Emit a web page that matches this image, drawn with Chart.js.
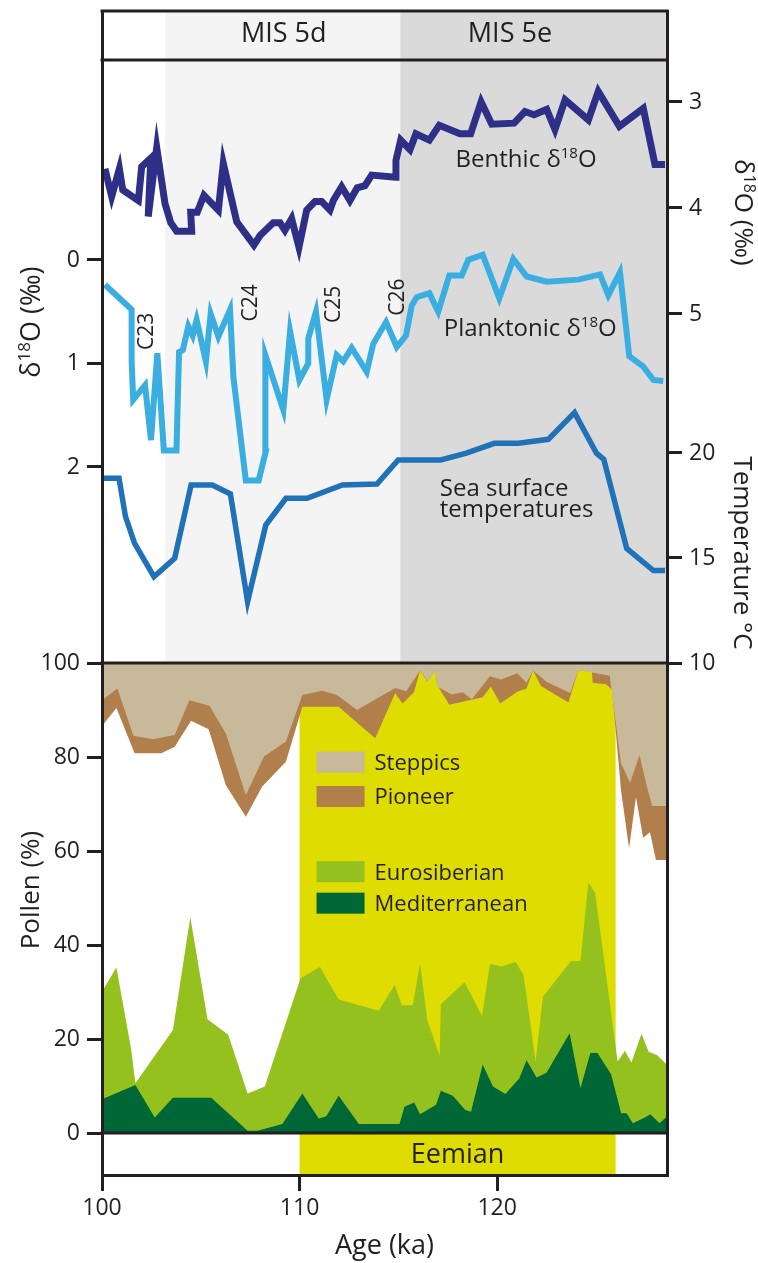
<!DOCTYPE html>
<html lang="en">
<head>
<meta charset="utf-8">
<title>Isotope and pollen records across MIS 5d–5e</title>
<script src="https://cdn.jsdelivr.net/npm/chart.js@4.4.1/dist/chart.umd.min.js"></script>
<style>
  html, body { margin: 0; padding: 0; background: #ffffff; }
  #frame { width: 758px; height: 1263px; }
</style>
</head>
<body>
<div id="frame"><canvas id="chart" width="758" height="1263"></canvas></div>
<script>
const INK = '#231f20';
const FAMILY = '"Open Sans", "Noto Sans", sans-serif';

// ---------- age axis (ka) ----------
const ageMin = 100;
const ageMax = 128.6;
const ageTicks = [100, 110, 120];

// ---------- marine isotope stages (header strip) ----------
const misNames = ['MIS 5d', 'MIS 5e'];
const misFrom = [103.2, 115.1];
const misTo = [115.1, 128.6];

// ---------- Eemian interval (ka) ----------
const eemianFrom = 110;
const eemianTo = 126;

// ---------- tick values ----------
const planktonicTicks = [0, 1, 2];
const benthicTicks = [3, 4, 5];
const sstTicks = [10, 15, 20];
const pollenTicks = [0, 20, 40, 60, 80, 100];

// ---------- benthic δ18O (‰) ----------
const benthicAge = [100.15, 100.49, 100.88, 101.05, 101.84, 102.01, 102.47, 102.34, 102.77, 103.19,
  103.48, 103.78, 104.54, 104.49, 104.82, 105.16, 105.89, 106.14, 106.82, 107.69,
  108.00, 108.67, 109.01, 109.26, 109.60, 109.97, 110.36, 110.78, 111.12, 111.54,
  111.71, 112.13, 112.55, 112.92, 113.31, 113.65, 114.86, 114.88, 115.12, 115.59,
  115.89, 116.57, 117.07, 118.12, 118.66, 119.19, 119.73, 120.86, 121.41, 121.87,
  122.51, 122.93, 123.44, 124.62, 125.12, 126.19, 127.40, 127.99, 128.50];
const benthicD18O = [3.63, 3.89, 3.63, 3.83, 3.93, 3.61, 3.53, 4.08, 3.43, 3.96,
  4.14, 4.22, 4.22, 4.04, 4.04, 3.88, 4.02, 3.58, 4.13, 4.35,
  4.26, 4.14, 4.14, 4.21, 4.10, 4.37, 4.02, 3.94, 3.94, 4.02,
  3.93, 3.80, 3.93, 3.81, 3.79, 3.69, 3.71, 3.55, 3.36, 3.45,
  3.30, 3.36, 3.22, 3.30, 3.30, 3.00, 3.21, 3.20, 3.09, 3.12,
  3.07, 3.26, 2.98, 3.17, 2.90, 3.23, 3.06, 3.59, 3.59];

// ---------- planktonic δ18O (‰) ----------
const planktonicAge = [100.15, 101.50, 101.50, 101.58, 102.18, 102.48, 102.80, 103.13, 103.77, 103.90,
  104.09, 104.37, 104.59, 104.79, 105.26, 105.50, 105.89, 106.48, 106.65, 107.28,
  107.93, 108.29, 108.27, 109.18, 109.52, 109.99, 110.44, 110.44, 110.83, 111.37,
  111.88, 112.21, 112.64, 113.40, 113.73, 114.38, 114.92, 115.39, 115.68, 115.93,
  116.57, 117.02, 117.58, 118.21, 118.54, 119.27, 120.11, 120.82, 121.50, 122.51,
  124.11, 125.21, 125.63, 126.22, 126.69, 127.40, 127.91, 128.41];
const planktonicD18O = [0.24, 0.48, 0.98, 1.35, 1.21, 1.74, 0.90, 1.84, 1.84, 0.89,
  0.87, 0.64, 0.73, 0.58, 0.98, 0.52, 0.74, 0.48, 1.13, 2.13,
  2.13, 1.85, 0.92, 1.45, 0.69, 1.16, 1.00, 0.76, 0.50, 1.35,
  0.92, 0.98, 0.85, 1.08, 0.81, 0.60, 0.84, 0.73, 0.44, 0.36,
  0.32, 0.50, 0.15, 0.15, 0.00, -0.05, 0.37, -0.01, 0.16, 0.21,
  0.19, 0.14, 0.34, 0.12, 0.93, 1.03, 1.16, 1.17];

// ---------- sea surface temperature (°C) ----------
const sstAge = [100.08, 100.86, 101.19, 101.65, 102.63, 103.68, 104.51, 105.58, 106.50, 107.37,
  108.29, 109.31, 110.38, 112.17, 113.92, 114.99, 117.15, 118.44, 119.86, 121.08,
  122.59, 123.92, 125.03, 125.40, 126.56, 127.91, 128.50];
const sstValue = [18.80, 18.80, 16.97, 15.70, 14.11, 14.99, 18.48, 18.48, 18.05, 12.92,
  16.57, 17.84, 17.84, 18.48, 18.52, 19.67, 19.67, 19.99, 20.46, 20.46,
  20.65, 21.92, 19.99, 19.70, 15.46, 14.40, 14.40];

// ---------- pollen, cumulative percentages ----------
// herbs are stacked down from 100 %, trees are stacked up from 0 %
const steppicsAge = [100.0, 100.78, 101.59, 102.58, 103.68, 104.42, 105.44, 106.27, 107.28, 108.20,
  109.31, 110.14, 111.15, 111.89, 112.91, 114.84, 115.40, 116.10, 116.50, 116.87,
  116.97, 117.70, 118.26, 118.72, 119.64, 120.20, 121.02, 121.49, 121.82, 122.50,
  123.70, 124.11, 124.82, 125.70, 126.27, 126.73, 127.21, 127.58, 127.85, 128.6];
const steppicsCum = [92.1, 94.6, 84.5, 83.8, 84.7, 92.1, 90.9, 85.0, 71.9, 80.1,
  83.3, 93.2, 94.1, 93.2, 90.0, 94.7, 94.0, 98.4, 96.0, 98.4,
  95.0, 93.3, 93.8, 92.3, 97.2, 96.5, 97.8, 95.8, 98.4, 96.0,
  93.6, 98.5, 98.0, 97.3, 78.7, 74.5, 80.4, 73.7, 69.6, 69.6];

const pioneerAge = [100.0, 100.73, 101.65, 103.00, 103.68, 104.51, 105.40, 106.27, 107.28, 108.11,
  109.31, 110.14, 111.98, 113.83, 114.84, 115.21, 115.79, 116.10, 116.47, 116.87,
  116.97, 117.58, 119.27, 119.68, 120.16, 121.02, 121.49, 121.82, 122.22, 123.61,
  124.11, 124.80, 124.84, 125.51, 125.82, 126.27, 126.68, 127.03, 127.39, 127.74,
  128.04, 128.6];
const pioneerCum = [86.6, 90.4, 80.8, 80.8, 82.2, 87.7, 85.9, 74.0, 67.3, 73.7,
  79.0, 90.7, 90.7, 84.0, 93.6, 91.4, 93.8, 98.4, 96.0, 98.4,
  95.3, 91.1, 92.7, 95.0, 91.4, 93.9, 94.6, 98.4, 95.1, 91.6,
  98.5, 98.1, 95.8, 95.5, 94.3, 73.0, 60.6, 71.5, 62.8, 64.0,
  58.1, 58.1];

const eurosiberianAge = [100.0, 100.73, 101.47, 101.69, 103.59, 104.47, 105.34, 106.39, 107.37, 108.24,
  110.05, 111.03, 111.98, 114.01, 114.81, 115.18, 115.73, 116.10, 116.47, 117.09,
  117.15, 118.35, 119.24, 119.64, 120.20, 120.93, 121.34, 121.95, 122.32, 123.74,
  124.22, 124.62, 124.96, 126.10, 126.47, 126.80, 127.31, 127.67, 128.09, 128.6];
const eurosiberianCum = [30.1, 35.2, 18.0, 10.6, 21.9, 45.9, 24.2, 20.9, 8.4, 9.9,
  32.9, 35.3, 28.4, 26.0, 31.5, 27.2, 27.2, 36.0, 24.0, 16.4,
  27.4, 32.1, 24.9, 36.0, 35.4, 36.4, 33.6, 15.2, 29.0, 36.6,
  36.6, 53.3, 51.1, 15.2, 17.5, 15.0, 21.1, 17.3, 16.6, 14.5];

const mediterraneanAge = [100.0, 101.69, 102.67, 103.59, 105.53, 107.37, 107.87, 109.13, 110.14, 110.97,
  111.34, 111.98, 113.00, 115.06, 115.31, 115.80, 116.10, 116.91, 117.15, 117.76,
  118.39, 118.68, 119.27, 119.79, 120.42, 121.12, 121.49, 122.00, 122.50, 123.67,
  124.22, 124.72, 125.08, 125.77, 126.28, 126.56, 126.87, 127.48, 127.76, 128.22,
  128.6];
const mediterraneanCum = [7.2, 10.2, 3.3, 7.5, 7.5, 0.5, 0.5, 1.9, 8.4, 3.1,
  3.5, 7.9, 1.9, 1.9, 5.6, 6.5, 4.0, 6.0, 9.0, 7.9,
  4.9, 4.5, 14.6, 9.9, 8.3, 11.6, 15.5, 11.8, 12.8, 21.2,
  9.5, 17.0, 17.0, 12.5, 4.2, 4.2, 2.1, 3.3, 4.0, 2.1,
  3.5];

// ---------- colours ----------
const COLORS = {
  misShade: ['#f4f4f4', '#dadada'],
  eemian: '#dedc00',
  benthic: '#2e3087',
  planktonic: '#3aade1',
  sst: '#1f71b8',
  steppics: '#c9b99b',
  pioneer: '#b17f4b',
  eurosiberian: '#95c11f',
  mediterranean: '#006837'
};

// ---------- helpers ----------
const pts = (xs, ys) => xs.map((x, i) => ({ x, y: ys[i] }));
const LEFT_W = 102, RIGHT_W = 91;
const fixWidth = w => s => {
  s.width = w;
  s.paddingTop = 0; s.paddingBottom = 0; s.paddingLeft = 0; s.paddingRight = 0;
};

function frameAxis(position, weight, stackWeight) {
  return {
    type: 'linear', position, weight, stack: 'frame', stackWeight,
    min: 0, max: 1, bounds: 'data',
    grid: { display: false },
    ticks: { display: false },
    border: { display: true, color: INK, width: 3, z: 1 },
    afterFit: fixWidth(position === 'left' ? LEFT_W : RIGHT_W)
  };
}

function valueAxis(position, weight, stackWeight, min, max, reverse, tickValues) {
  return {
    type: 'linear', position, weight, stack: 'frame', stackWeight,
    min, max, reverse, bounds: 'data',
    afterBuildTicks: s => { s.ticks = tickValues.map(v => ({ value: v })); },
    grid: { display: true, drawOnChartArea: false, drawTicks: true,
            tickLength: 15, tickWidth: 3, lineWidth: 3, color: INK },
    ticks: { color: INK, padding: 7, font: { family: FAMILY, size: 23 } },
    border: { display: true, color: INK, width: 3, z: 1 },
    afterFit: fixWidth(position === 'left' ? LEFT_W : RIGHT_W)
  };
}

function lineSet(label, xs, ys, axis, color, width, order) {
  return {
    label, data: pts(xs, ys), yAxisID: axis,
    borderColor: color, borderWidth: width, pointRadius: 0,
    tension: 0, fill: false, order, borderJoinStyle: 'miter'
  };
}

function areaSet(label, xs, ys, color, fillTo, order) {
  return {
    label, data: pts(xs, ys), yAxisID: 'yPollen',
    borderColor: 'rgba(0,0,0,0)', borderWidth: 0, pointRadius: 0,
    backgroundColor: color, tension: 0, fill: fillTo, order
  };
}

// text with an optional raised "18" and rotation; (x, y) is the visual centre line
function rich(ctx, parts, x, y, size, align, angle) {
  ctx.save();
  ctx.translate(x, y);
  if (angle) ctx.rotate(angle);
  ctx.fillStyle = INK;
  ctx.textBaseline = 'alphabetic';
  ctx.textAlign = 'left';
  const fontOf = p => `${p.sup ? Math.round(size * 0.62) : size}px ${FAMILY}`;
  let width = 0;
  const widths = parts.map(p => { ctx.font = fontOf(p); const w = ctx.measureText(p.t).width; width += w; return w; });
  let cx = align === 'center' ? -width / 2 : align === 'right' ? -width : 0;
  const base = size * 0.36;
  parts.forEach((p, i) => {
    ctx.font = fontOf(p);
    ctx.fillText(p.t, cx, p.sup ? base - size * 0.36 : base);
    cx += widths[i];
  });
  ctx.restore();
}
const d18O = (pre, post) => [{ t: pre + 'δ' }, { t: '18', sup: true }, { t: 'O' + (post || '') }];

// ---------- panels, frame and annotations ----------
const panelsPlugin = {
  id: 'panels',
  beforeDatasetsDraw(chart) {
    const { ctx, chartArea: ca, scales: s } = chart;
    const X = v => s.x.getPixelForValue(v);
    ctx.save();
    misNames.forEach((n, i) => {
      const x0 = X(misFrom[i]), x1 = X(misTo[i]);
      ctx.fillStyle = COLORS.misShade[i];
      ctx.fillRect(x0, ca.top, x1 - x0, s.yIso.bottom - ca.top);
    });
    const e0 = X(eemianFrom), e1 = X(eemianTo);
    ctx.fillStyle = COLORS.eemian;
    ctx.fillRect(e0, s.yPollen.top, e1 - e0, ca.bottom - s.yPollen.top);
    ctx.restore();
  },
  afterDatasetsDraw(chart) {
    const { ctx, chartArea: ca, scales: s } = chart;
    const X = v => s.x.getPixelForValue(v);

    // horizontal rules between the strips
    ctx.save();
    ctx.strokeStyle = INK;
    ctx.lineWidth = 3;
    [ca.top, s.yMisL.bottom, s.yIso.bottom, s.yPollen.bottom].forEach(y => {
      ctx.beginPath();
      ctx.moveTo(ca.left - 1.5, y);
      ctx.lineTo(ca.right + 1.5, y);
      ctx.stroke();
    });
    ctx.restore();

    // stage names and Eemian
    const misLabelAge = [109.2, 120.65];
    const misMid = (ca.top + s.yMisL.bottom) / 2;
    misNames.forEach((n, i) => rich(ctx, [{ t: n }], X(misLabelAge[i]), misMid - 3, 27, 'center'));
    rich(ctx, [{ t: 'Eemian' }], X((eemianFrom + eemianTo) / 2), (s.yPollen.bottom + ca.bottom) / 2 - 1, 27, 'center');

    // curve labels
    rich(ctx, d18O('Benthic '), X(117.9), s.yBenthic.getPixelForValue(3.53), 24, 'left');
    rich(ctx, d18O('Planktonic '), X(117.3), s.yIso.getPixelForValue(0.65), 24, 'left');
    rich(ctx, [{ t: 'Sea surface' }], X(117.1), s.yTemp.getPixelForValue(18.38), 24, 'left');
    rich(ctx, [{ t: 'temperatures' }], X(117.1), s.yTemp.getPixelForValue(17.38), 24, 'left');

    // cold events on the planktonic curve
    const cold = [['C23', 102.18, 0.69], ['C24', 107.44, 0.415], ['C25', 111.66, 0.43], ['C26', 114.92, 0.36]];
    cold.forEach(([n, a, v]) => rich(ctx, [{ t: n }], X(a), s.yIso.getPixelForValue(v), 21, 'center', -Math.PI / 2));

    // axis titles
    rich(ctx, d18O('', ' (‰)'), 30, s.yIso.getPixelForValue(0.6), 27, 'center', -Math.PI / 2);
    rich(ctx, [{ t: 'Pollen (%)' }], 30, s.yPollen.getPixelForValue(51.7), 26, 'center', -Math.PI / 2);
    rich(ctx, d18O('', ' (‰)'), ca.right + 77, s.yBenthic.getPixelForValue(4.04), 26, 'center', Math.PI / 2);
    rich(ctx, [{ t: 'Temperature °C' }], ca.right + 76, s.yTemp.getPixelForValue(15.24), 26, 'center', Math.PI / 2);

    // pollen legend
    const legend = [['Steppics', COLORS.steppics, 78.9], ['Pioneer', COLORS.pioneer, 71.6],
                    ['Eurosiberian', COLORS.eurosiberian, 55.6], ['Mediterranean', COLORS.mediterranean, 48.9]];
    const lx = X(eemianFrom) + 17;
    legend.forEach(([name, color, v]) => {
      const cy = s.yPollen.getPixelForValue(v);
      ctx.fillStyle = color;
      ctx.fillRect(lx, cy - 10.5, 48, 21);
      rich(ctx, [{ t: name }], lx + 58, cy, 22, 'left');
    });
  }
};

new Chart(document.getElementById('chart'), {
  type: 'line',
  data: {
    datasets: [
      lineSet('Benthic δ18O', benthicAge, benthicD18O, 'yBenthic', COLORS.benthic, 7, 1),
      lineSet('Planktonic δ18O', planktonicAge, planktonicD18O, 'yIso', COLORS.planktonic, 6, 2),
      lineSet('Sea surface temperatures', sstAge, sstValue, 'yTemp', COLORS.sst, 5.5, 3),
      areaSet('Mediterranean', mediterraneanAge, mediterraneanCum, COLORS.mediterranean, 'origin', 4),
      areaSet('Eurosiberian', eurosiberianAge, eurosiberianCum, COLORS.eurosiberian, 'origin', 5),
      areaSet('Steppics', steppicsAge, steppicsCum, COLORS.steppics, { value: 100 }, 6),
      areaSet('Pioneer', pioneerAge, pioneerCum, COLORS.pioneer, { value: 100 }, 7)
    ]
  },
  options: {
    responsive: false,
    animation: false,
    devicePixelRatio: 1,
    events: [],
    layout: { padding: { top: 11, left: 0, right: 0, bottom: 0 } },
    plugins: { legend: { display: false }, tooltip: { enabled: false } },
    scales: {
      x: {
        type: 'linear', position: 'bottom', min: ageMin, max: ageMax, bounds: 'data',
        afterBuildTicks: s => { s.ticks = ageTicks.map(v => ({ value: v })); },
        grid: { display: true, drawOnChartArea: false, tickLength: 16, tickWidth: 3, lineWidth: 3, color: INK },
        ticks: { color: INK, padding: 4, maxRotation: 0, font: { family: FAMILY, size: 23 } },
        border: { display: true, color: INK, width: 3, z: 1 },
        title: { display: true, text: 'Age (ka)', color: INK, padding: 0, font: { family: FAMILY, size: 27 } },
        afterFit: s => { s.height = 88; s.paddingLeft = 0; s.paddingRight = 0; s.paddingTop = 0; s.paddingBottom = 0; }
      },
      yMisL: frameAxis('left', 4, 49),
      yIso: valueAxis('left', 3, 603, -1.932, 3.894, true, planktonicTicks),
      yPollen: valueAxis('left', 2, 470, 0, 100, false, pollenTicks),
      yEemL: frameAxis('left', 1, 42),
      yMisR: frameAxis('right', 1, 49),
      yBenthic: valueAxis('right', 2, 323, 2.604, 5.651, true, benthicTicks),
      yTemp: valueAxis('right', 3, 280, 10, 23.333, false, sstTicks),
      yPollenR: frameAxis('right', 4, 470),
      yEemR: frameAxis('right', 5, 42)
    }
  },
  plugins: [panelsPlugin]
});
</script>
</body>
</html>
